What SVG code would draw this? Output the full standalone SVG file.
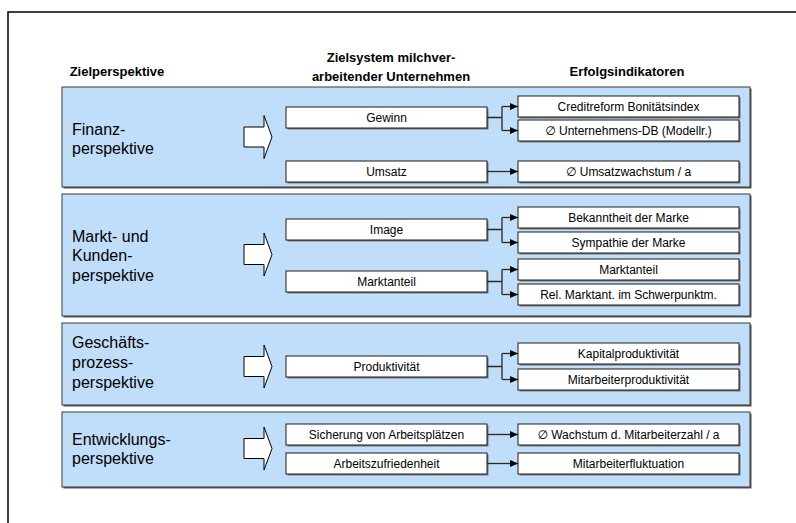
<svg xmlns="http://www.w3.org/2000/svg" width="796" height="523" viewBox="0 0 796 523">
<defs>
<style>
.panel{fill:#c0ddfa;stroke:#3a3a3a;stroke-width:1}
.psh{fill:#555}
.box{fill:#fff;stroke:#1a1a1a;stroke-width:1}
.bsh{fill:#777}
.hdr{font-family:"Liberation Sans",Arial,sans-serif;font-size:13px;font-weight:bold;text-anchor:middle;fill:#000}
.lbl{font-family:"Liberation Sans",Arial,sans-serif;font-size:16px;fill:#000}
.bt{font-family:"Liberation Sans","DejaVu Sans",Arial,sans-serif;font-size:12px;text-anchor:middle;fill:#000}
.big{fill:#fff;stroke:#000;stroke-width:1}
.conn{fill:none;stroke:#2a2a2a;stroke-width:1.3}
</style>
<marker id="ah" markerUnits="userSpaceOnUse" markerWidth="8" markerHeight="8" refX="8" refY="4" orient="auto">
<path d="M0,0.5 L8,4 L0,7.5 Z" fill="#000"/>
</marker>
</defs>
<rect x="0" y="0" width="796" height="523" fill="#fff"/>
<rect x="8" y="12" width="800" height="520" fill="none" stroke="#000" stroke-width="1.5"/>

<g id="headers">
<text class="hdr" x="117" y="76">Zielperspektive</text>
<text class="hdr" x="391" y="62">Zielsystem milchver-</text>
<text class="hdr" x="391" y="81">arbeitender Unternehmen</text>
<text class="hdr" x="627" y="76">Erfolgsindikatoren</text>
</g>

<g id="panel-finanz">
<rect class="psh" x="63.5" y="88.5" width="688" height="100"/>
<rect class="panel" x="62" y="87" width="688" height="100"/>
<text class="lbl" x="72" y="135">Finanz-</text>
<text class="lbl" x="72" y="154">perspektive</text>
<path class="big" d="M244,127 H264 V115.5 L272,137 L264,158.5 V147 H244 Z"/>
</g>
<g id="panel-markt">
<rect class="psh" x="63.5" y="195.5" width="688" height="122"/>
<rect class="panel" x="62" y="194" width="688" height="122"/>
<text class="lbl" x="72" y="241.5">Markt- und</text>
<text class="lbl" x="72" y="261">Kunden-</text>
<text class="lbl" x="72" y="280.5">perspektive</text>
<path class="big" d="M244,244.5 H264 V233 L272,254.5 L264,276 V264.5 H244 Z"/>
</g>
<g id="panel-geschaeft">
<rect class="psh" x="63.5" y="324.5" width="688" height="82"/>
<rect class="panel" x="62" y="323" width="688" height="82"/>
<text class="lbl" x="72" y="348">Geschäfts-</text>
<text class="lbl" x="72" y="368">prozess-</text>
<text class="lbl" x="72" y="388">perspektive</text>
<path class="big" d="M244,356.5 H264 V345 L272,366.5 L264,388 V376.5 H244 Z"/>
</g>
<g id="panel-entwicklung">
<rect class="psh" x="63.5" y="413.5" width="688" height="75"/>
<rect class="panel" x="62" y="412" width="688" height="75"/>
<text class="lbl" x="72" y="445">Entwicklungs-</text>
<text class="lbl" x="72" y="464">perspektive</text>
<path class="big" d="M244,438.5 H264 V427 L272,448.5 L264,470 V458.5 H244 Z"/>
</g>

<g id="goal-gewinn"><rect class="bsh" x="287.5" y="108.5" width="201" height="21"/><rect class="box" x="286" y="107" width="201" height="21"/><text class="bt" x="386.5" y="121.5">Gewinn</text></g>
<g id="goal-umsatz"><rect class="bsh" x="287.5" y="162.5" width="201" height="21"/><rect class="box" x="286" y="161" width="201" height="21"/><text class="bt" x="386.5" y="175.5">Umsatz</text></g>
<g id="goal-image"><rect class="bsh" x="287.5" y="220.5" width="201" height="21"/><rect class="box" x="286" y="219" width="201" height="21"/><text class="bt" x="386.5" y="233.5">Image</text></g>
<g id="goal-marktanteil"><rect class="bsh" x="287.5" y="272.5" width="201" height="21"/><rect class="box" x="286" y="271" width="201" height="21"/><text class="bt" x="386.5" y="285.5">Marktanteil</text></g>
<g id="goal-produktivitaet"><rect class="bsh" x="287.5" y="357.5" width="201" height="21"/><rect class="box" x="286" y="356" width="201" height="21"/><text class="bt" x="386.5" y="370.5">Produktivität</text></g>
<g id="goal-sicherung"><rect class="bsh" x="287.5" y="425.5" width="201" height="21"/><rect class="box" x="286" y="424" width="201" height="21"/><text class="bt" x="386.5" y="438.5">Sicherung von Arbeitsplätzen</text></g>
<g id="goal-zufriedenheit"><rect class="bsh" x="287.5" y="454.5" width="201" height="21"/><rect class="box" x="286" y="453" width="201" height="21"/><text class="bt" x="386.5" y="467.5">Arbeitszufriedenheit</text></g>

<g id="ind-creditreform"><rect class="bsh" x="519.5" y="97.5" width="221" height="21"/><rect class="box" x="518" y="96" width="221" height="21"/><text class="bt" x="628.5" y="110.5">Creditreform Bonitätsindex</text></g>
<g id="ind-db"><rect class="bsh" x="519.5" y="121.5" width="221" height="21"/><rect class="box" x="518" y="120" width="221" height="21"/><text class="bt" x="628.5" y="134.5">∅ Unternehmens-DB (Modellr.)</text></g>
<g id="ind-umsatzwachstum"><rect class="bsh" x="519.5" y="162.5" width="221" height="21"/><rect class="box" x="518" y="161" width="221" height="21"/><text class="bt" x="628.5" y="175.5">∅ Umsatzwachstum / a</text></g>
<g id="ind-bekanntheit"><rect class="bsh" x="519.5" y="208.5" width="221" height="21"/><rect class="box" x="518" y="207" width="221" height="21"/><text class="bt" x="628.5" y="221.5">Bekanntheit der Marke</text></g>
<g id="ind-sympathie"><rect class="bsh" x="519.5" y="233.5" width="221" height="21"/><rect class="box" x="518" y="232" width="221" height="21"/><text class="bt" x="628.5" y="246.5">Sympathie der Marke</text></g>
<g id="ind-marktanteil"><rect class="bsh" x="519.5" y="260.5" width="221" height="21"/><rect class="box" x="518" y="259" width="221" height="21"/><text class="bt" x="628.5" y="273.5">Marktanteil</text></g>
<g id="ind-relmarkt"><rect class="bsh" x="519.5" y="285.5" width="221" height="21"/><rect class="box" x="518" y="284" width="221" height="21"/><text class="bt" x="628.5" y="298.5">Rel. Marktant. im Schwerpunktm.</text></g>
<g id="ind-kapital"><rect class="bsh" x="519.5" y="344.5" width="221" height="21"/><rect class="box" x="518" y="343" width="221" height="21"/><text class="bt" x="628.5" y="357.5">Kapitalproduktivität</text></g>
<g id="ind-mitarbeiterprod"><rect class="bsh" x="519.5" y="370.5" width="221" height="21"/><rect class="box" x="518" y="369" width="221" height="21"/><text class="bt" x="628.5" y="383.5">Mitarbeiterproduktivität</text></g>
<g id="ind-wachstum"><rect class="bsh" x="519.5" y="425.5" width="221" height="21"/><rect class="box" x="518" y="424" width="221" height="21"/><text class="bt" x="628.5" y="438.5">∅ Wachstum d. Mitarbeiterzahl / a</text></g>
<g id="ind-fluktuation"><rect class="bsh" x="519.5" y="454.5" width="221" height="21"/><rect class="box" x="518" y="453" width="221" height="21"/><text class="bt" x="628.5" y="467.5">Mitarbeiterfluktuation</text></g>

<g id="connectors">
<path class="conn" d="M487,117.5 H502 M502,106.5 V130.5"/>
<path class="conn" d="M502,106.5 H518" marker-end="url(#ah)"/>
<path class="conn" d="M502,130.5 H518" marker-end="url(#ah)"/>
<path class="conn" d="M487,171.5 H518" marker-end="url(#ah)"/>
<path class="conn" d="M487,229.5 H502 M502,217.5 V242.5"/>
<path class="conn" d="M502,217.5 H518" marker-end="url(#ah)"/>
<path class="conn" d="M502,242.5 H518" marker-end="url(#ah)"/>
<path class="conn" d="M487,281.5 H502 M502,269.5 V294.5"/>
<path class="conn" d="M502,269.5 H518" marker-end="url(#ah)"/>
<path class="conn" d="M502,294.5 H518" marker-end="url(#ah)"/>
<path class="conn" d="M487,366.5 H502 M502,353.5 V379.5"/>
<path class="conn" d="M502,353.5 H518" marker-end="url(#ah)"/>
<path class="conn" d="M502,379.5 H518" marker-end="url(#ah)"/>
<path class="conn" d="M487,434.5 H518" marker-end="url(#ah)"/>
<path class="conn" d="M487,463.5 H518" marker-end="url(#ah)"/>
</g>
</svg>
